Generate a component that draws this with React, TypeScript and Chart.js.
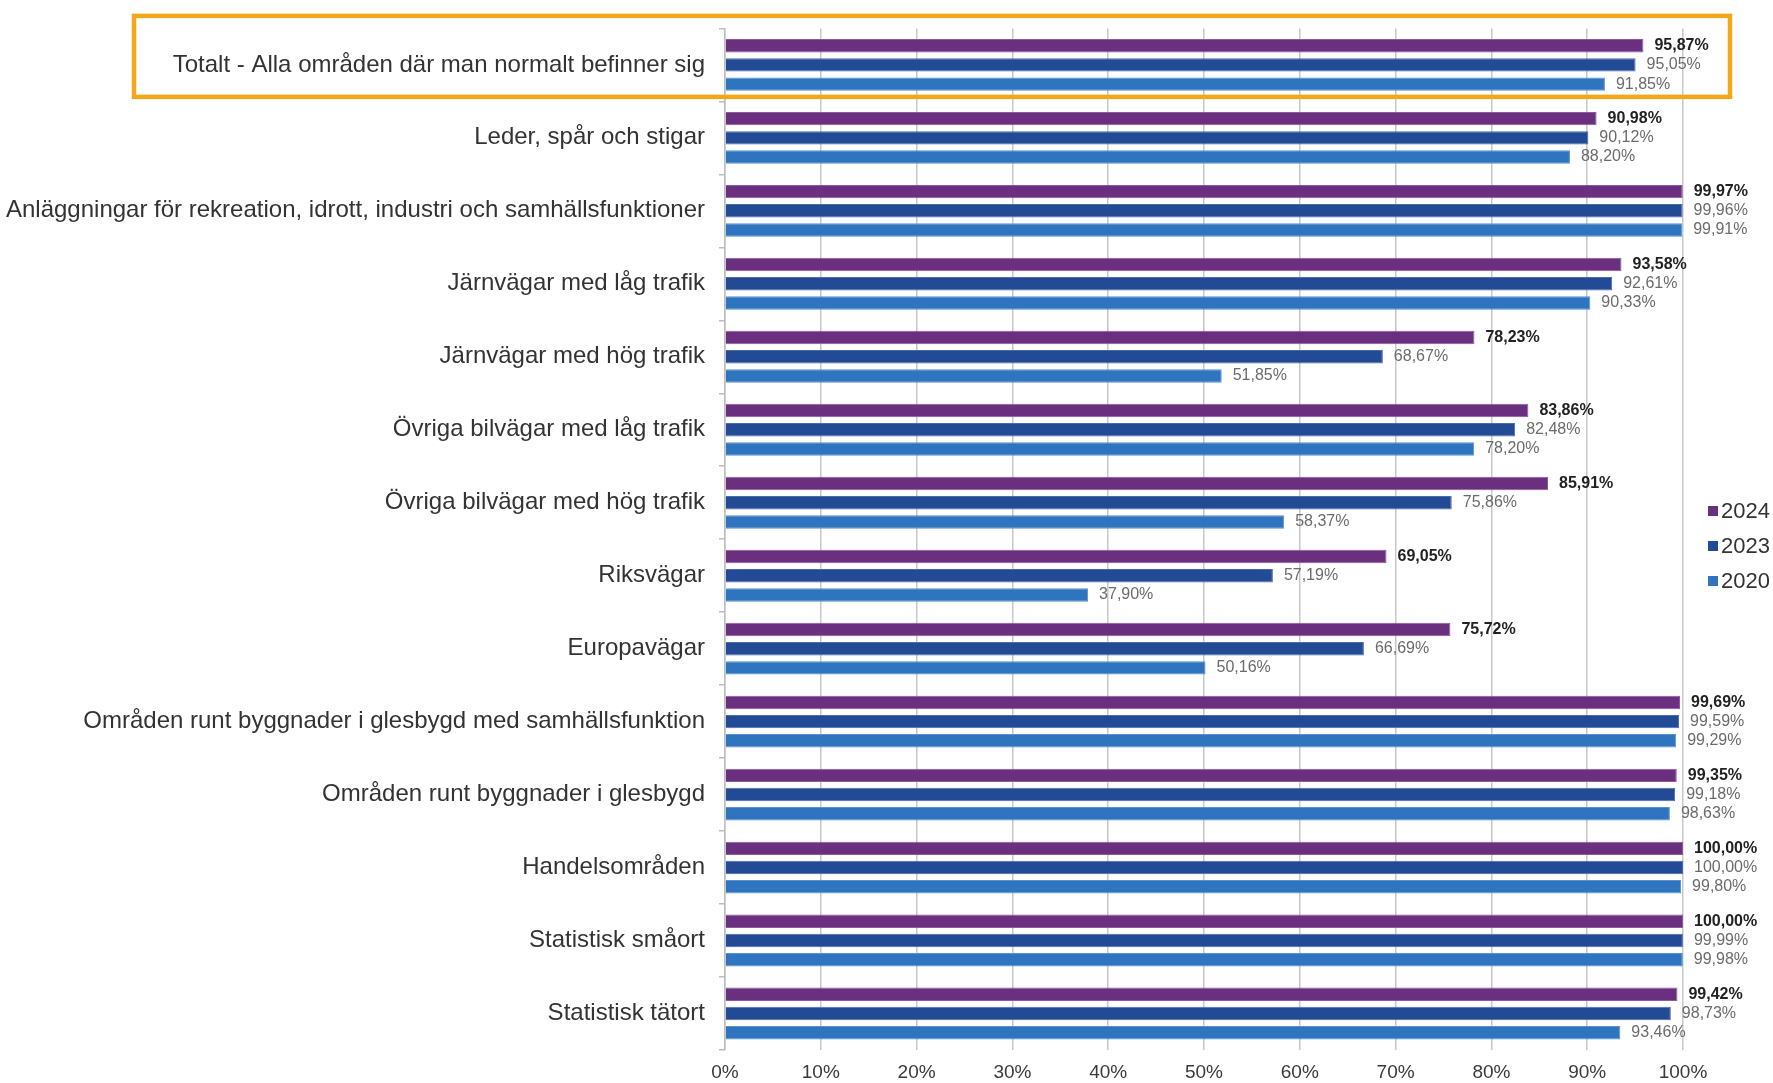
import React, { useEffect, useRef } from "react";
import { Chart, registerables } from "chart.js";

Chart.register(...registerables);

const categories = [
  "Totalt - Alla områden där man normalt befinner sig",
  "Leder, spår och stigar",
  "Anläggningar för rekreation, idrott, industri och samhällsfunktioner",
  "Järnvägar med låg trafik",
  "Järnvägar med hög trafik",
  "Övriga bilvägar med låg trafik",
  "Övriga bilvägar med hög trafik",
  "Riksvägar",
  "Europavägar",
  "Områden runt byggnader i glesbygd med samhällsfunktion",
  "Områden runt byggnader i glesbygd",
  "Handelsområden",
  "Statistisk småort",
  "Statistisk tätort",
];

const values2024 = [95.87, 90.98, 99.97, 93.58, 78.23, 83.86, 85.91, 69.05, 75.72, 99.69, 99.35, 100.0, 100.0, 99.42];
const values2023 = [95.05, 90.12, 99.96, 92.61, 68.67, 82.48, 75.86, 57.19, 66.69, 99.59, 99.18, 100.0, 99.99, 98.73];
const values2020 = [91.85, 88.2, 99.91, 90.33, 51.85, 78.2, 58.37, 37.9, 50.16, 99.29, 98.63, 99.8, 99.98, 93.46];

const seriesNames = ["2024", "2023", "2020"];
const seriesColors = ["#6B2F7F", "#234B95", "#2F74BF"];
const seriesBorders = ["#8B5B9C", "#4A6CAD", "#5A92CF"];

const FONT = "'Liberation Sans', Arial, sans-serif";

const fmt = (v: number) => v.toFixed(2).replace(".", ",") + "%";

const valueLabelPlugin = {
  id: "valueLabels",
  afterDatasetsDraw(chart: any) {
    const ctx = chart.ctx;
    ctx.save();
    chart.data.datasets.forEach((ds: any, di: number) => {
      const meta = chart.getDatasetMeta(di);
      meta.data.forEach((bar: any, i: number) => {
        const v = ds.data[i];
        ctx.font = (di === 0 ? "bold " : "") + "16px " + FONT;
        ctx.fillStyle = di === 0 ? "#222222" : "#6b6b6b";
        ctx.textAlign = "left";
        ctx.textBaseline = "middle";
        ctx.fillText(fmt(v), bar.x + 11, bar.y);
      });
    });
    ctx.restore();
  },
};

const legendPlugin = {
  id: "sideLegend",
  afterDraw(chart: any) {
    const ctx = chart.ctx;
    ctx.save();
    const top = 511;
    chart.data.datasets.forEach((ds: any, i: number) => {
      const y = top + i * 35;
      ctx.fillStyle = ds.backgroundColor;
      ctx.fillRect(1708, y - 5, 10, 10);
      ctx.fillStyle = "#333333";
      ctx.font = "22px " + FONT;
      ctx.textAlign = "left";
      ctx.textBaseline = "middle";
      ctx.fillText(ds.label, 1721, y + 1);
    });
    ctx.restore();
  },
};

const highlightPlugin = {
  id: "highlightBox",
  afterDraw(chart: any) {
    const ctx = chart.ctx;
    const yc = chart.scales.y.getPixelForValue(0);
    ctx.save();
    ctx.strokeStyle = "#F2A71B";
    ctx.lineWidth = 4.5;
    ctx.strokeRect(134, yc - 49, 1730 - 134, 81);
    ctx.restore();
  },
};

export default function App() {
  const ref = useRef<HTMLCanvasElement | null>(null);

  useEffect(() => {
    if (!ref.current) return;
    const chart = new Chart(ref.current, {
      type: "bar",
      data: {
        labels: categories,
        datasets: [values2024, values2023, values2020].map((d, i) => ({
          label: seriesNames[i],
          data: d,
          backgroundColor: seriesColors[i],
          borderColor: seriesBorders[i],
          borderWidth: 1,
          categoryPercentage: 0.79,
          barPercentage: 0.7,
        })),
      },
      options: {
        indexAxis: "y",
        animation: false,
        responsive: true,
        maintainAspectRatio: false,
        layout: { padding: { left: 0, top: 25, right: 90, bottom: 0 } },
        plugins: {
          legend: { display: false },
          tooltip: { enabled: false },
        },
        scales: {
          x: {
            min: 0,
            max: 100,
            ticks: {
              stepSize: 10,
              callback: (v: any) => v + "%",
              font: { family: FONT, size: 19 },
              color: "#3a3a3a",
              padding: 11,
            },
            grid: { color: "#c8c8c8", lineWidth: 1.5, drawTicks: false },
            border: { display: false },
            afterFit: (s: any) => {
              s.height = 33;
            },
          },
          y: {
            ticks: {
              autoSkip: false,
              font: { family: FONT, size: 24 },
              color: "#333333",
              padding: 14,
            },
            grid: {
              drawOnChartArea: false,
              drawTicks: true,
              tickLength: 6,
              color: "#bdbdbd",
              lineWidth: 1.5,
            },
            border: { display: true, color: "#bdbdbd", width: 1.5 },
            afterFit: (s: any) => {
              s.width = 725;
            },
          },
        },
      },
      plugins: [valueLabelPlugin, legendPlugin, highlightPlugin],
    });
    return () => chart.destroy();
  }, []);

  return (
    <div style={{ position: "fixed", left: 0, top: 0, width: 1773, height: 1083, background: "#fff" }}>
      <canvas ref={ref} />
    </div>
  );
}
